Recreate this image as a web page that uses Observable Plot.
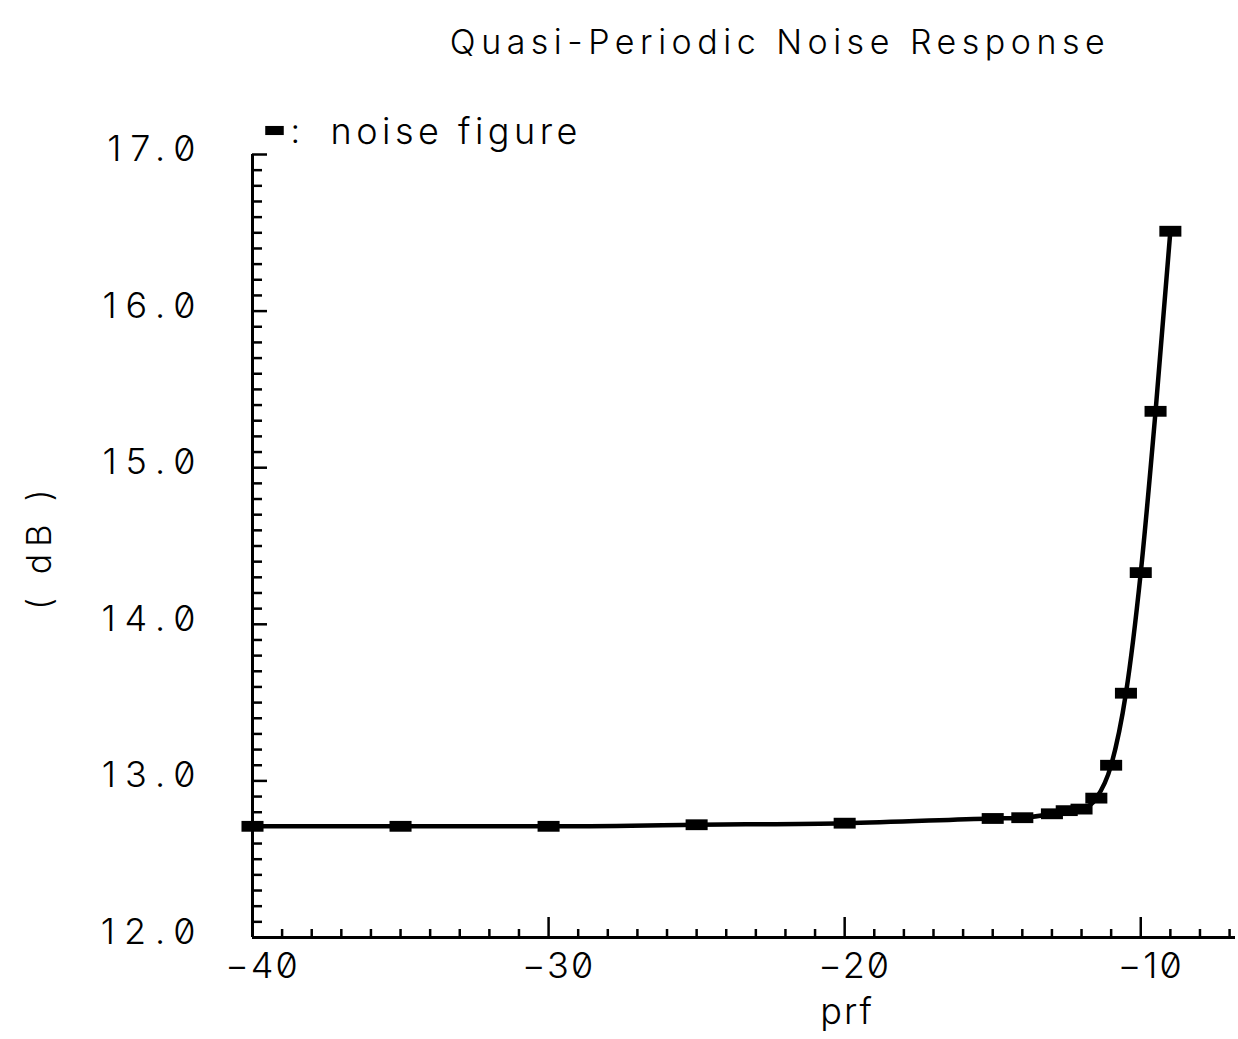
<!DOCTYPE html>
<html><head><meta charset="utf-8">
<script src="https://cdn.jsdelivr.net/npm/d3@7"></script>
<script src="https://cdn.jsdelivr.net/npm/@observablehq/plot@0.6"></script>
<style>
body{margin:0;background:#fff;}
#chart svg text{font-family:Inter,"Liberation Sans",sans-serif;font-weight:300;font-feature-settings:"zero" 1;font-variant-numeric:slashed-zero;}
</style></head><body><div id="chart"></div>
<script>
const title = "Quasi-Periodic Noise Response";
const seriesName = "noise figure";
const xLabel = "prf";
const yLabel = "( dB )";
const prf = [-40, -35, -30, -25, -20, -15, -14, -13, -12.5, -12, -11.5, -11, -10.5, -10, -9.5, -9];
const noiseFigure = [12.71, 12.71, 12.71, 12.72, 12.73, 12.76, 12.765, 12.79, 12.81, 12.82, 12.89, 13.10, 13.56, 14.33, 15.36, 16.51];
const xMajorTicks = [-40, -30, -20, -10];
const xMinorTicks = [-39,-38,-37,-36,-35,-34,-33,-32,-31,-29,-28,-27,-26,-25,-24,-23,-22,-21,-19,-18,-17,-16,-15,-14,-13,-12,-11,-9,-8,-7];
const yMajorTicks = [12, 13, 14, 15, 16, 17];
const yMinorTicks = d3.range(121, 170).filter(d => d % 10 !== 0).map(d => d / 10);

const data = prf.map((x, i) => ({x, y: noiseFigure[i]}));

const W = 1238, H = 1039, mL = 252, mR = 3, mT = 154, mB = 102;
const fw = W - mL - mR, fh = H - mT - mB;

const rectSymbol = {draw(ctx, size) { const s = Math.sqrt(size); ctx.rect(-s * 0.55, -s * 0.27, s * 1.1, s * 0.54); }};
const fmtY = d3.format(".1f");
const fmtX = d => d3.format("d")(d).replace("-", "\u2212");

const chart = Plot.plot({
  width: W, height: H,
  marginLeft: mL, marginRight: mR, marginTop: mT, marginBottom: mB,
  x: {domain: [-40, -6.8], axis: null},
  y: {domain: [12, 17], axis: null},
  style: {background: "white", color: "black", overflow: "visible"},
  marks: [
    Plot.ruleY(yMinorTicks, {y: d => d, insetRight: fw - 10, strokeWidth: 2.5}),
    Plot.ruleY(yMajorTicks, {y: d => d, insetRight: fw - 15, strokeWidth: 2.5}),
    Plot.ruleX(xMinorTicks, {x: d => d, insetTop: fh - 8, strokeWidth: 2.5}),
    Plot.ruleX(xMajorTicks, {x: d => d, insetTop: fh - 20, strokeWidth: 2.5}),
    Plot.ruleX([-40], {strokeWidth: 3}),
    Plot.ruleY([12], {strokeWidth: 3}),
    Plot.line(data, {x: "x", y: "y", curve: "monotone-x", strokeWidth: 4.5, stroke: "black"}),
    Plot.dot(data, {x: "x", y: "y", symbol: rectSymbol, r: 11.3, fill: "black", stroke: null}),
    Plot.text(yMajorTicks, {y: d => d, frameAnchor: "left", dx: -48, dy: -5, textAnchor: "end", text: fmtY, fontSize: 36}),
    Plot.text(xMajorTicks, {x: d => d, frameAnchor: "bottom", dx: 10, dy: 40, text: fmtX, fontSize: 36}),
    Plot.text([xLabel], {frameAnchor: "bottom", dx: 103, dy: 86, text: d => d, fontSize: 36}),
    Plot.text([yLabel], {frameAnchor: "left", textAnchor: "middle", dx: -212, rotate: -90, text: d => d, fontSize: 34}),
    Plot.text([title], {frameAnchor: "top", dx: 36, dy: -125, text: d => d, fontSize: 34}),
    Plot.dot([0], {frameAnchor: "top-left", dx: 22, dy: -24, symbol: rectSymbol, r: 9.5, fill: "black", stroke: null}),
    Plot.text([":"], {frameAnchor: "top-left", dx: 38, dy: -36, text: d => d, textAnchor: "start", fontSize: 34}),
    Plot.text([seriesName], {frameAnchor: "top-left", dx: 78, dy: -36, text: d => d, textAnchor: "start", fontSize: 36})
  ]
});

// letter spacing to mimic the wide-set plotter font
const spacing = new Map([
  ...yMajorTicks.map(d => [fmtY(d), "9px"]),
  ...xMajorTicks.map(d => [fmtX(d), "2px"]),
  [xLabel, "2px"], [yLabel, "7px"], [title, "5.5px"], [seriesName, "4.5px"]
]);
d3.select(chart).selectAll("text").each(function() {
  const s = spacing.get(this.textContent);
  if (s) this.setAttribute("letter-spacing", s), this.style.letterSpacing = s;
});
document.getElementById("chart").appendChild(chart);
</script></body></html>
